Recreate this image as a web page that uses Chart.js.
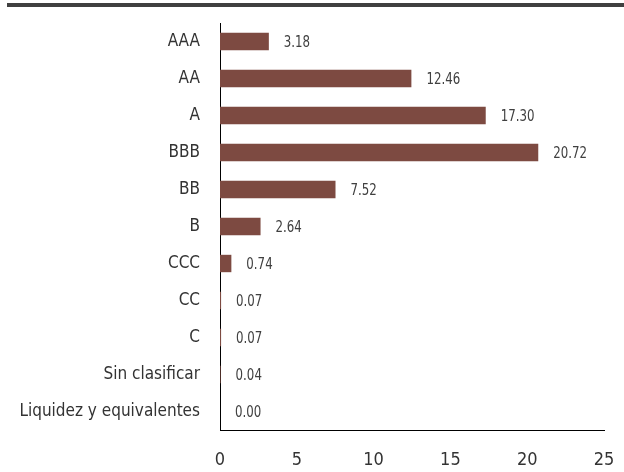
<!DOCTYPE html>
<html><head><meta charset="utf-8">
<script src="https://cdn.jsdelivr.net/npm/chart.js@4"></script>
<style>html,body{margin:0;padding:0;background:#fff}#wrap{width:624px;height:472px;position:relative}</style>
</head><body><div id="wrap"><canvas id="c" width="624" height="472"></canvas></div>
<script>
const categories = ["AAA","AA","A","BBB","BB","B","CCC","CC","C","Sin clasificar","Liquidez y equivalentes"];
const values = [3.18,12.46,17.30,20.72,7.52,2.64,0.74,0.07,0.07,0.04,0.00];
const xTicks = [0,5,10,15,20,25];
const FONT = '"DejaVu Sans Condensed","Liberation Sans Narrow","Roboto Condensed",sans-serif';

const topRule = {
  id:'topRule',
  beforeDraw(chart){
    const ctx = chart.ctx;
    ctx.save();
    ctx.fillStyle = '#404040';
    ctx.fillRect(7,3,617,4);
    ctx.restore();
  }
};
const valueLabels = {
  id:'valueLabels',
  afterDatasetsDraw(chart){
    const ctx = chart.ctx;
    const meta = chart.getDatasetMeta(0);
    ctx.save();
    ctx.font = '16px ' + FONT;
    ctx.fillStyle = '#404040';
    ctx.textBaseline = 'middle';
    ctx.textAlign = 'left';
    meta.data.forEach((el,i)=>{
      ctx.save();
      ctx.translate(el.x + 15, el.y + 1);
      ctx.scale(0.82, 1);
      ctx.fillText(values[i].toFixed(2), 0, 0);
      ctx.restore();
    });
    ctx.restore();
  }
};

new Chart(document.getElementById('c'), {
  type:'bar',
  data:{labels:categories, datasets:[{data:values, backgroundColor:'#7D4A41', borderWidth:0, categoryPercentage:1, barPercentage:0.47}]},
  options:{
    indexAxis:'y', responsive:false, animation:false,
    layout:{padding:{left:0,right:20,top:23,bottom:0}},
    plugins:{legend:{display:false}, tooltip:{enabled:false}},
    scales:{
      x:{min:0,max:25,
        afterBuildTicks(s){ s.ticks = xTicks.map(v=>({value:v})); },
        afterFit(s){ s.height = 42; s.paddingLeft = 0; s.paddingRight = 0; },
        grid:{display:false, drawTicks:false},
        border:{display:true,color:'#000',width:1},
        ticks:{padding:20,color:'#333',font:{family:FONT,size:18}}},
      y:{
        afterFit(s){ s.width = 220; s.paddingTop = 0; s.paddingBottom = 0; },
        grid:{display:false, drawTicks:false},
        border:{display:true,color:'#000',width:1},
        ticks:{padding:20,color:'#333',font:{family:FONT,size:17}}}
    }
  },
  plugins:[topRule,valueLabels]
});
</script></body></html>
